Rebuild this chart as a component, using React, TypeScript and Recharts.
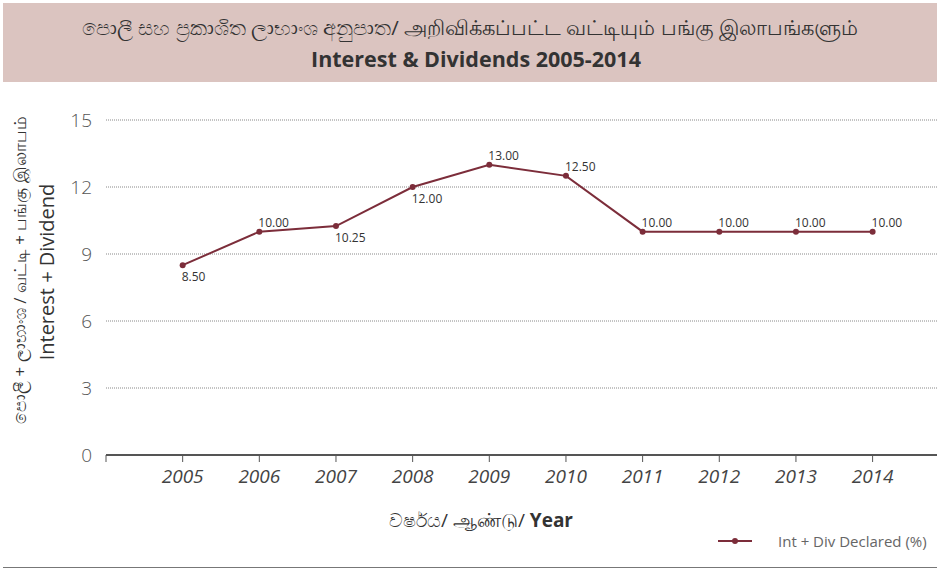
import React from "react";
import { CartesianGrid, LabelList, Line, LineChart, XAxis, YAxis } from "recharts";

// values
const years = [2005, 2006, 2007, 2008, 2009, 2010, 2011, 2012, 2013, 2014];
const intDivDeclared = [8.5, 10, 10.25, 12, 13, 12.5, 10, 10, 10, 10];
const yTicks = [0, 3, 6, 9, 12, 15];
const xTicks = [2004, ...years];

const data = years.map((year, i) => ({ year, value: intDivDeclared[i] }));

const LINE_COLOR = "#7c2d3a";
const FONT = "'Open Sans', 'Noto Sans', sans-serif";
// which point labels sit under their dot
const LABEL_BELOW = new Set([0, 2, 3]);

function PointLabel(props: any) {
  const { x, y, value, index } = props;
  const below = LABEL_BELOW.has(index);
  return (
    <text
      x={x - 1}
      y={below ? y + 11 : y - 9}
      dominantBaseline="central"
      textAnchor="start"
      fontSize={12}
      fontFamily={FONT}
      fill="#333"
    >
      {Number(value).toFixed(2)}
    </text>
  );
}

export default function App() {
  return (
    <div style={{ position: "absolute", left: 0, top: 0, width: 937, height: 570, background: "#fff", fontFamily: FONT }}>
      <div
        style={{
          position: "absolute",
          left: 3,
          top: 3,
          width: 934,
          height: 79,
          background: "#dbc4c0",
          color: "#333",
          textAlign: "center",
        }}
      >
        <div style={{ position: "absolute", left: 0, right: 0, top: 11, fontSize: 20.5, lineHeight: "26px" }}>
          පොලී සහ ප්‍රකාශිත ලාභාංශ අනුපාත/ அறிவிக்கப்பட்ட வட்டியும் பங்கு இலாபங்களும்
        </div>
        <div style={{ position: "absolute", left: 12, right: 0, top: 42, fontSize: 21.5, lineHeight: "28px", fontWeight: 700 }}>
          Interest &amp; Dividends 2005-2014
        </div>
      </div>

      <LineChart width={937} height={570} data={data} margin={{ top: 120, right: 0, bottom: 85, left: 0 }}>
        <CartesianGrid vertical={false} horizontal stroke="#888" strokeDasharray="1 1" />
        <XAxis
          dataKey="year"
          type="number"
          domain={[2004, 2014.84]}
          ticks={xTicks}
          tickFormatter={(v) => (v === 2004 ? "" : String(v))}
          axisLine={{ stroke: "#555", strokeWidth: 2 }}
          tickLine={{ stroke: "#555" }}
          tickSize={7}
          tickMargin={8}
          tick={{ fill: "#444", fontSize: 19, fontStyle: "italic", fontFamily: FONT }}
          interval={0}
        />
        <YAxis
          domain={[0, 15]}
          ticks={yTicks}
          width={106}
          axisLine={false}
          tickLine={false}
          tickMargin={8}
          tick={{ fill: "#555", fontSize: 19, fontWeight: 300, fontFamily: FONT }}
        />
        <Line
          dataKey="value"
          stroke={LINE_COLOR}
          strokeWidth={2}
          dot={{ r: 3, fill: LINE_COLOR, stroke: LINE_COLOR, strokeWidth: 0 }}
          isAnimationActive={false}
        >
          <LabelList dataKey="value" content={<PointLabel />} />
        </Line>
      </LineChart>

      <div
        style={{
          position: "absolute",
          left: 20,
          top: 270,
          transform: "translate(-50%, -50%) rotate(-90deg)",
          whiteSpace: "nowrap",
          fontSize: 17,
          color: "#333",
        }}
      >
        පොලී + ලාභාංශ / வட்டி + பங்கு இலாபம்
      </div>
      <div
        style={{
          position: "absolute",
          left: 46,
          top: 272,
          transform: "translate(-50%, -50%) rotate(-90deg)",
          whiteSpace: "nowrap",
          fontSize: 20,
          color: "#333",
        }}
      >
        Interest + Dividend
      </div>

      <div
        style={{
          position: "absolute",
          left: 481,
          top: 520,
          transform: "translate(-50%, -50%)",
          whiteSpace: "nowrap",
          fontSize: 19,
          color: "#333",
        }}
      >
        වර්ෂය/ ஆண்டு/ <b>Year</b>
      </div>

      <div style={{ position: "absolute", left: 718, top: 531, height: 20, display: "flex", alignItems: "center" }}>
        <svg width={34} height={20}>
          <line x1={0} y1={10} x2={34} y2={10} stroke={LINE_COLOR} strokeWidth={2} />
          <circle cx={17} cy={10} r={3} fill={LINE_COLOR} />
        </svg>
        <span style={{ marginLeft: 26, fontSize: 15, color: "#666", whiteSpace: "nowrap" }}>Int + Div Declared (%)</span>
      </div>

      <div style={{ position: "absolute", left: 3, top: 567, width: 934, height: 1, background: "#777" }} />
    </div>
  );
}
